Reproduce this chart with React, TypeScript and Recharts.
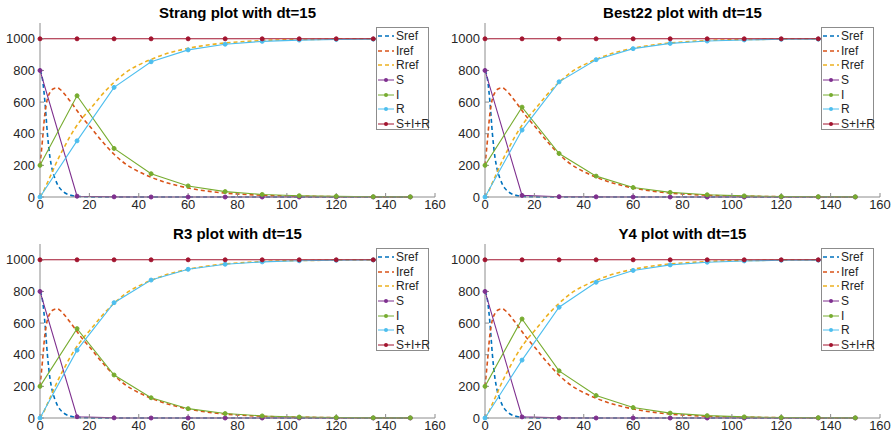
import { LineChart, Line, XAxis, YAxis } from 'recharts'

// reference (continuous) solution
const refT = [0, 1, 2, 3, 4, 5, 6, 7, 8, 9, 10, 12, 14, 16, 18, 20, 25, 30, 35, 40, 45, 50, 60, 70, 80, 90, 100, 110, 120, 135, 150]
const sRef = [800, 745, 600, 400, 255, 170, 120, 82, 56, 39, 27, 13, 6, 3, 2, 1, 0, 0, 0, 0, 0, 0, 0, 0, 0, 0, 0, 0, 0, 0, 0]
const iRef = [200, 360, 530, 620, 660, 680, 688, 690, 682, 668, 650, 610, 568, 525, 485, 450, 355, 270, 205, 160, 125, 97, 57, 33, 19, 11, 6, 4, 2, 1, 0]
const rRef = [0, 25, 55, 90, 125, 160, 195, 230, 262, 292, 320, 378, 430, 475, 515, 550, 645, 725, 790, 835, 870, 900, 940, 965, 980, 989, 994, 996, 998, 999, 1000]

// numerical solutions, dt = 15
const stepT = [0, 15, 30, 45, 60, 75, 90, 105, 120, 135, 150]
const total = [1000, 1000, 1000, 1000, 1000, 1000, 1000, 1000, 1000, 1000, 1000]

const strangS = [800, 5, 1, 0, 0, 0, 0, 0, 0, 0, 0]
const strangI = [200, 640, 307, 147, 70, 34, 16, 8, 4, 2, 1]
const strangR = [0, 355, 693, 855, 930, 966, 984, 992, 996, 998, 999]

const best22S = [800, 10, 2, 1, 0, 0, 0, 0, 0, 0, 0]
const best22I = [200, 568, 275, 132, 60, 29, 14, 7, 3, 2, 1]
const best22R = [0, 423, 728, 868, 938, 971, 986, 993, 997, 998, 999]

const r3S = [800, 8, 1, 0, 0, 0, 0, 0, 0, 0, 0]
const r3I = [200, 565, 272, 128, 59, 28, 13, 6, 3, 1, 1]
const r3R = [0, 429, 729, 872, 940, 972, 987, 994, 997, 999, 999]

const y4S = [800, 7, 1, 0, 0, 0, 0, 0, 0, 0, 0]
const y4I = [200, 626, 298, 142, 66, 31, 15, 7, 3, 2, 1]
const y4R = [0, 366, 700, 858, 933, 968, 985, 993, 997, 998, 999]

const xTicks = [0, 20, 40, 60, 80, 100, 120, 140, 160]
const yTicks = [0, 200, 400, 600, 800, 1000]

const COLORS = {
  Sref: '#0072BD',
  Iref: '#D95319',
  Rref: '#EDB120',
  S: '#7E2F8E',
  I: '#77AC30',
  R: '#4DBEEE',
  total: '#A2142F',
}

const AXIS = '#8c8c8c'
const TEXT = '#262626'

const toPoints = (ts: number[], vs: number[]) => ts.map((t, i) => ({ t, v: vs[i] }))

type Series = { name: string; color: string; dashed: boolean; ts: number[]; vs: number[] }

type PanelProps = {
  title: string
  s: number[]
  i: number[]
  r: number[]
  left: number
  top: number
}

function LegendBox({ series }: { series: Series[] }) {
  return (
    <div
      style={{
        position: 'absolute',
        left: 376,
        top: 27,
        width: 53,
        height: 103,
        border: `1px solid ${AXIS}`,
        background: '#fff',
        paddingTop: 1,
        boxSizing: 'border-box',
      }}
    >
      {series.map((s) => (
        <div key={s.name} style={{ display: 'flex', alignItems: 'center', height: 14.6, fontSize: 12, color: TEXT }}>
          <svg width={18} height={10} style={{ flex: 'none' }}>
            <line
              x1={1}
              y1={5}
              x2={17}
              y2={5}
              stroke={s.color}
              strokeWidth={s.dashed ? 1.5 : 1}
              strokeDasharray={s.dashed ? '4 3' : undefined}
            />
            {!s.dashed && <circle cx={9} cy={5} r={2} fill={s.color} />}
          </svg>
          <span style={{ marginLeft: 1, whiteSpace: 'nowrap' }}>{s.name}</span>
        </div>
      ))}
    </div>
  )
}

function Panel({ title, s, i, r, left, top }: PanelProps) {
  const series: Series[] = [
    { name: 'Sref', color: COLORS.Sref, dashed: true, ts: refT, vs: sRef },
    { name: 'Iref', color: COLORS.Iref, dashed: true, ts: refT, vs: iRef },
    { name: 'Rref', color: COLORS.Rref, dashed: true, ts: refT, vs: rRef },
    { name: 'S', color: COLORS.S, dashed: false, ts: stepT, vs: s },
    { name: 'I', color: COLORS.I, dashed: false, ts: stepT, vs: i },
    { name: 'R', color: COLORS.R, dashed: false, ts: stepT, vs: r },
    { name: 'S+I+R', color: COLORS.total, dashed: false, ts: stepT, vs: total },
  ]

  return (
    <div style={{ position: 'absolute', left, top, width: 447, height: 221 }}>
      <div
        style={{
          position: 'absolute',
          left: 40,
          top: 4,
          width: 395,
          textAlign: 'center',
          fontWeight: 'bold',
          fontSize: 15,
          color: '#000',
        }}
      >
        {title}
      </div>
      <LineChart width={447} height={221} margin={{ top: 23, right: 12, bottom: 0, left: 0 }}>
        <XAxis
          dataKey='t'
          type='number'
          domain={[0, 160]}
          ticks={xTicks}
          interval={0}
          height={24}
          tickSize={-4}
          tickMargin={7}
          stroke={AXIS}
          tick={{ fill: TEXT, fontSize: 13 }}
        />
        <XAxis
          xAxisId='top'
          orientation='top'
          dataKey='t'
          type='number'
          domain={[0, 160]}
          ticks={xTicks}
          interval={0}
          height={0}
          tickSize={-4}
          stroke={AXIS}
          tick={false}
        />
        <YAxis
          type='number'
          domain={[0, 1100]}
          ticks={yTicks}
          interval={0}
          width={40}
          tickSize={-4}
          tickMargin={9}
          stroke={AXIS}
          tick={{ fill: TEXT, fontSize: 13 }}
        />
        <YAxis
          yAxisId='right'
          orientation='right'
          type='number'
          domain={[0, 1100]}
          ticks={yTicks}
          interval={0}
          width={0}
          tickSize={-4}
          stroke={AXIS}
          tick={false}
        />
        {series.map((sr) => (
          <Line
            key={sr.name}
            data={toPoints(sr.ts, sr.vs)}
            dataKey='v'
            name={sr.name}
            type={sr.dashed ? 'monotone' : 'linear'}
            stroke={sr.color}
            strokeWidth={sr.dashed ? 1.6 : 1.1}
            strokeDasharray={sr.dashed ? '4 3' : undefined}
            dot={sr.dashed ? false : { r: 2, fill: sr.color, stroke: sr.color, strokeWidth: 1 }}
            activeDot={false}
            isAnimationActive={false}
          />
        ))}
      </LineChart>
      <LegendBox series={series} />
    </div>
  )
}

export default function App() {
  return (
    <div
      style={{
        position: 'absolute',
        left: 0,
        top: 0,
        width: 895,
        height: 442,
        background: '#fff',
        fontFamily: '"Liberation Sans", Arial, Helvetica, sans-serif',
      }}
    >
      <Panel title='Strang plot with dt=15' s={strangS} i={strangI} r={strangR} left={0} top={0} />
      <Panel title='Best22 plot with dt=15' s={best22S} i={best22I} r={best22R} left={445} top={0} />
      <Panel title='R3 plot with dt=15' s={r3S} i={r3I} r={r3R} left={0} top={221} />
      <Panel title='Y4 plot with dt=15' s={y4S} i={y4I} r={y4R} left={445} top={221} />
    </div>
  )
}
